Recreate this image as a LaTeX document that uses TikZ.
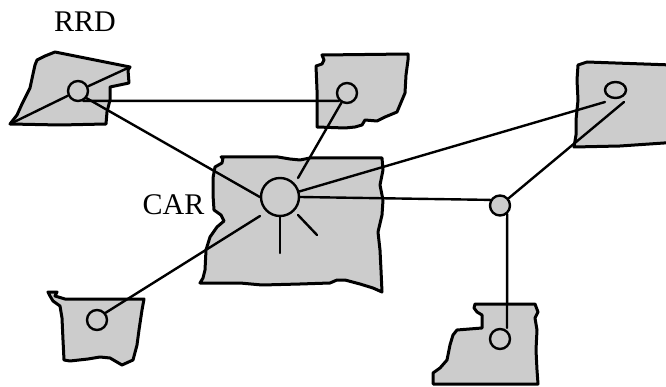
\documentclass[tikz,border=0pt]{standalone}
\usepackage{fontspec}
\setmainfont{Liberation Serif}
\usetikzlibrary{shapes.geometric}
\definecolor{regiongray}{gray}{0.80}
\begin{document}
\begin{tikzpicture}[x=1pt,y=-1pt,
  regionshape/.style={fill=regiongray,draw=black,line width=3pt,line join=round,line cap=round},
  linkline/.style={draw=black,line width=2.4pt,line cap=round},
  sitedot/.style={circle,fill=regiongray,draw=black,line width=2.4pt,inner sep=0pt,minimum size=20pt},
  captext/.style={font=\fontsize{30}{30}\selectfont,inner sep=0pt,anchor=base}]
\clip (0,0) rectangle (666,387);
\fill[white] (0,0) rectangle (666,387);

% ---- regions ----
% RRD region (top left)
\draw[regionshape] (55,52) -- (45,56) -- (37,60) -- (35,65) -- (33,74) -- (30,88)
  -- (22,104) -- (17,115) -- (10,124) -- (60,125) -- (106,124) -- (107,112)
  -- (110,100) -- (110,87) -- (129,83) -- (128,70) -- (130,67) -- cycle;
% top middle region
\draw[regionshape] (322,55) -- (324,60) -- (322,64) -- (316,66) -- (317,90)
  -- (317,127) -- (345,128) -- (355,127) -- (362,125) -- (365,120) -- (377,121)
  -- (385,117) -- (397,112) -- (405,93) -- (406,75) -- (408,60) -- (408,54) -- cycle;
% top right region (runs off the right edge)
\draw[regionshape] (587,62) -- (578,65) -- (577,80) -- (578,100) -- (576,120)
  -- (576,135) -- (574,147) -- (620,146) -- (664,143) -- (672,143) -- (672,65) -- cycle;
% central region
\draw[regionshape] (221,157) -- (278,157) -- (290,159) -- (300,160) -- (310,158)
  -- (382,158) -- (383,170) -- (380,185) -- (383,200) -- (382,215) -- (378,232)
  -- (380,250) -- (381,270) -- (382,292) -- (373,288) -- (360,284) -- (345,280)
  -- (337,280) -- (330,283) -- (300,284) -- (262,285) -- (240,283) -- (215,283)
  -- (200,283) -- (203,278) -- (205,270) -- (206,250) -- (210,237) -- (217,227)
  -- (224,221) -- (221,215) -- (214,210) -- (213,195) -- (213,178) -- (215,167)
  -- (222,163) -- (223,158) -- cycle;
% lower left region
\draw[regionshape] (48,292) -- (57,292) -- (55,296) -- (65,299) -- (144,299)
  -- (142,310) -- (139,330) -- (137,345) -- (133,360) -- (122,365) -- (110,358)
  -- (100,357) -- (88,359) -- (70,361) -- (64,360) -- (63,340) -- (62,318)
  -- (60,306) -- (53,301) -- (50,296) -- cycle;
% lower right region
\draw[regionshape] (475,304) -- (535,304) -- (538,312) -- (535,318) -- (537,330)
  -- (536,350) -- (537,370) -- (538,384) -- (433,384) -- (433,373) -- (440,368)
  -- (447,360) -- (450,345) -- (453,335) -- (457,330) -- (482,328) -- (482,315)
  -- (477,312) -- (474,308) -- cycle;

% ---- sites ----
\node[sitedot] (rrd) at (78,91) {};
\node[sitedot] (mid) at (347,93) {};
\node[sitedot,minimum size=38pt] (car) at (280,197) {};
\node[sitedot] (junc) at (500,205.5) {};
\node[sitedot,ellipse,minimum width=21pt,minimum height=16pt] (tr) at (615.5,90) {};
\node[sitedot] (ll) at (97,320) {};
\node[sitedot] (lr) at (500,339) {};

% ---- free ends of connectors ----
\coordinate (rrdsw) at (10,124);
\coordinate (rrdne) at (130,67);
\coordinate (carNE) at (298,178);
\coordinate (carSW) at (260,216);
\coordinate (rayS) at (280,253);
\coordinate (raySEa) at (298,215);
\coordinate (raySEb) at (317,235);
\coordinate (trend) at (605,102);
\coordinate (trdiag) at (624,102);
\coordinate (lrtop) at (507,328);

% ---- connectors ----
\draw[linkline] (rrdsw) -- (rrd.205.4);
\draw[linkline] (rrd.25.4) -- (rrdne);
\draw[linkline] (rrd.-62) -- (mid.-135);
\draw[linkline] (rrd.-40) -- (car.west);
\draw[linkline] (mid.-120) -- (carNE);
\draw[linkline] (ll.40) -- (carSW);
\draw[linkline] (car.south) -- (rayS);
\draw[linkline] (raySEa) -- (raySEb);
\draw[linkline] (car.16) -- (trend);
\draw[linkline] (car.east) -- (junc.150);
\draw[linkline] (junc.40) -- (trdiag);
\draw[linkline] (junc.-50) -- (lrtop);

% ---- labels ----
\node[captext] (rrdtext) at (85,32) {RRD};
\node[captext] (cartext) at (173.5,215) {CAR};
\end{tikzpicture}
\end{document}
